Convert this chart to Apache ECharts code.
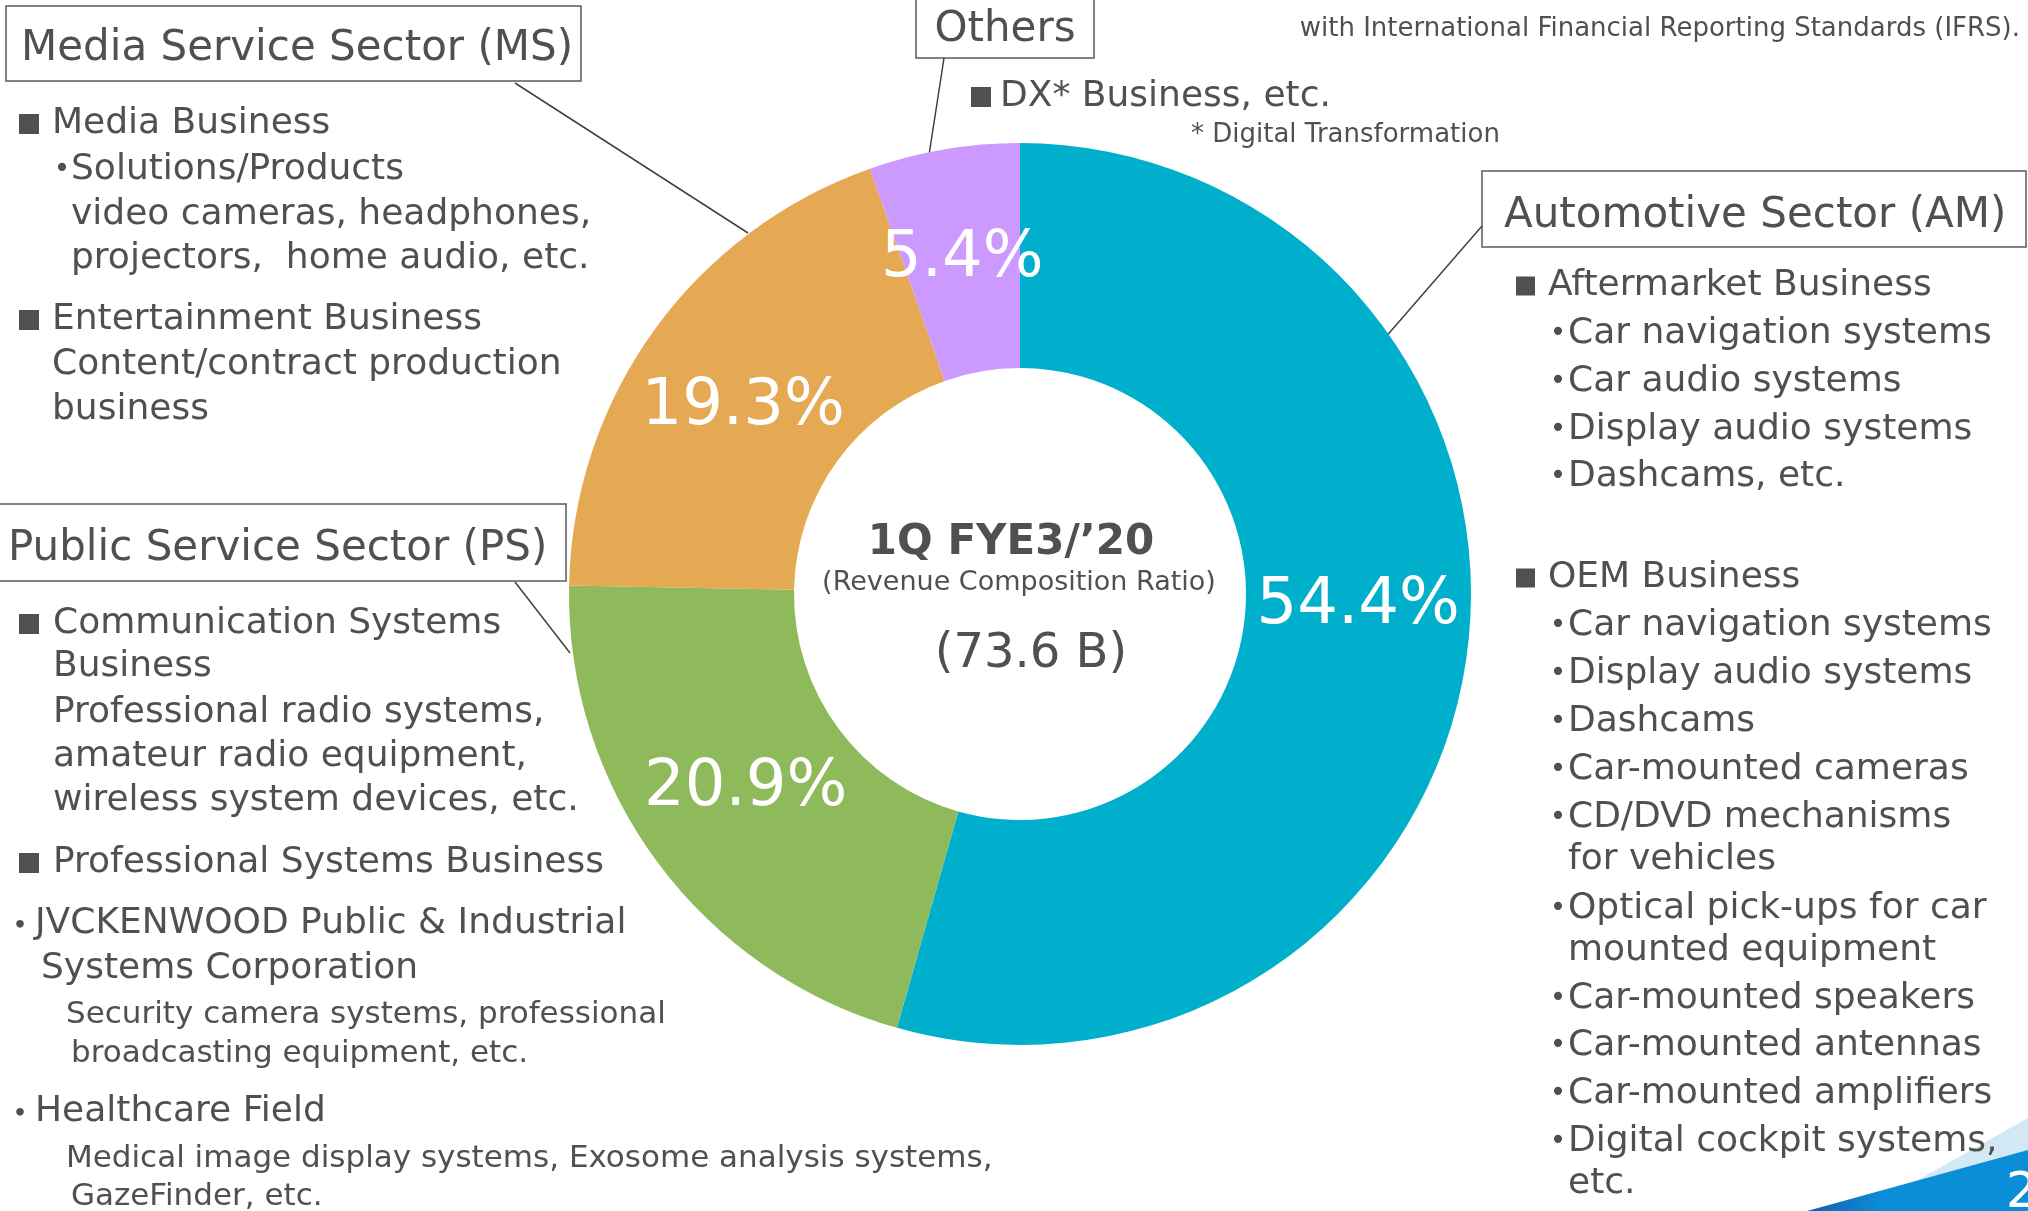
<!DOCTYPE html>
<html>
<head>
<meta charset="utf-8">
<script src="https://cdn.jsdelivr.net/npm/echarts@6/dist/echarts.min.js"></script>
<style>
  html, body { margin: 0; padding: 0; background: #fff; }
  #chart { width: 2028px; height: 1211px; }
</style>
</head>
<body>
<div id="chart"></div>
<script>
// data
const sectors = ['Automotive Sector (AM)', 'Public Service Sector (PS)', 'Media Service Sector (MS)', 'Others'];
const ratios = [54.4, 20.9, 19.3, 5.4];
const sectorColors = ['#00afcc', '#8fba5c', '#e5a853', '#cc99ff'];

const centerTitle = '1Q FYE3/’20';
const centerSub = '(Revenue Composition Ratio)';
const centerTotal = '(73.6 B)';
const ifrsNote = 'with International Financial Reporting Standards (IFRS).';

const msLines = ['Media Business', 'Solutions/Products', 'video cameras, headphones,', 'projectors,  home audio, etc.',
  'Entertainment Business', 'Content/contract production', 'business'];
const psLines = ['Communication Systems', 'Business', 'Professional radio systems,', 'amateur radio equipment,',
  'wireless system devices, etc.', 'Professional Systems Business', 'JVCKENWOOD Public & Industrial',
  'Systems Corporation', 'Security camera systems, professional', 'broadcasting equipment, etc.',
  'Healthcare Field', 'Medical image display systems, Exosome analysis systems,', 'GazeFinder, etc.'];
const otherLines = ['DX* Business, etc.', '* Digital Transformation'];
const amAfterLines = ['Aftermarket Business', 'Car navigation systems', 'Car audio systems', 'Display audio systems', 'Dashcams, etc.'];
const amOemLines = ['OEM Business', 'Car navigation systems', 'Display audio systems', 'Dashcams', 'Car-mounted cameras',
  'CD/DVD mechanisms', 'for vehicles', 'Optical pick-ups for car', 'mounted equipment', 'Car-mounted speakers',
  'Car-mounted antennas', 'Car-mounted amplifiers', 'Digital cockpit systems,', 'etc.'];

// styles
const ink = '#505050';
const fBody = '36px "DejaVu Sans"';
const fSmall = '31px "DejaVu Sans"';
const fHead = '42px "DejaVu Sans"';
const fNote = '26px "DejaVu Sans"';
const fCjk = '36px "Noto Sans CJK JP"';
const dy = 4; // canvas 'middle' sits a little high against the slide text

function txt(str, x, y, font, align, fill) {
  return { type: 'text', x: x, y: y + dy, silent: true,
    style: { text: str, font: font || fBody, fill: fill || ink, align: align || 'left', verticalAlign: 'middle' } };
}
function square(x, y, s) {
  return { type: 'rect', silent: true, shape: { x: x, y: y - s / 2 + 4, width: s, height: s }, style: { fill: ink } };
}
function dot(x, y) { return txt('•', x, y, '28px "DejaVu Sans"', 'center'); }
function box(x, y, w, h) {
  return { type: 'rect', silent: true, shape: { x: x, y: y, width: w, height: h },
    style: { fill: '#fff', stroke: '#595959', lineWidth: 1.5 } };
}
function link(x1, y1, x2, y2) {
  return { type: 'line', silent: true, shape: { x1: x1, y1: y1, x2: x2, y2: y2 }, style: { stroke: '#404040', lineWidth: 1.5 } };
}

let g = [];

// page corner decoration (under the text)
g.push({ type: 'polygon', silent: true, shape: { points: [[1863, 1211], [2028, 1118], [2028, 1211]] }, style: { fill: '#d3e8f5' } });
g.push({ type: 'polygon', silent: true, shape: { points: [[1807, 1211], [2028, 1150], [2028, 1211]] },
  style: { fill: new echarts.graphic.LinearGradient(0, 0, 1, 0, [{ offset: 0, color: '#1560b0' }, { offset: 0.35, color: '#0b8ed8' }, { offset: 1, color: '#0b8ed8' }]) } });
g.push(txt('2', 2006, 1190, '50px "DejaVu Sans"', 'left', '#fff'));

// Media Service Sector
g.push(box(6, 6, 575, 75), txt(sectors[2], 21, 45, fHead), link(515, 83, 748, 233));
g.push(square(19, 120, 20), txt(msLines[0], 52, 120));
g.push(dot(62, 166), txt(msLines[1], 71, 166));
g.push(txt(msLines[2], 71, 211), txt(msLines[3], 71, 255));
g.push(square(19, 316, 20), txt(msLines[4], 52, 316));
g.push(txt(msLines[5], 52, 361), txt(msLines[6], 52, 406));

// Public Service Sector
g.push(box(-2, 504, 568, 77), txt(sectors[1], 8, 545, fHead), link(515, 582, 570, 653));
g.push(square(19, 620, 20), txt(psLines[0], 53, 620));
[663, 709, 753, 797].forEach((y, i) => g.push(txt(psLines[i + 1], 53, y)));
g.push(square(19, 859, 20), txt(psLines[5], 53, 859));
g.push(txt('・', 20, 920, fCjk, 'center'), txt(psLines[6], 35, 920));
g.push(txt(psLines[7], 41, 965));
g.push(txt(psLines[8], 66, 1011, fSmall), txt(psLines[9], 71, 1050, fSmall));
g.push(txt('・', 20, 1108, fCjk, 'center'), txt(psLines[10], 35, 1108));
g.push(txt(psLines[11], 66, 1155, fSmall), txt(psLines[12], 71, 1193, fSmall));

// Others
g.push(box(916, -5, 178, 63), txt(sectors[3], 1005, 26, fHead, 'center'), link(944, 58, 929, 155));
g.push(square(971, 93, 20), txt(otherLines[0], 1000, 93));
g.push(txt(otherLines[1], 1191, 131, fNote));
g.push(txt(ifrsNote, 2020, 25, fNote, 'right'));

// Automotive Sector
g.push(box(1482, 171, 544, 76), txt(sectors[0], 1504, 212, fHead), link(1482, 226, 1384, 339));
const amAfterY = [282, 330, 378, 426, 473];
amAfterLines.forEach((s, i) => {
  if (i === 0) g.push(square(1516, amAfterY[i], 19), txt(s, 1548, amAfterY[i]));
  else g.push(dot(1558, amAfterY[i]), txt(s, 1568, amAfterY[i]));
});
const amOemY = [574, 622, 670, 718, 766, 814, 856, 905, 947, 995, 1042, 1090, 1138, 1180];
const noBullet = ['for vehicles', 'mounted equipment', 'etc.'];
amOemLines.forEach((s, i) => {
  if (i === 0) g.push(square(1516, amOemY[i], 19), txt(s, 1548, amOemY[i]));
  else if (noBullet.indexOf(s) >= 0) g.push(txt(s, 1568, amOemY[i]));
  else g.push(dot(1558, amOemY[i]), txt(s, 1568, amOemY[i]));
});

// centre of the ring
g.push(txt(centerTitle, 1011, 539, 'bold 42px "DejaVu Sans"', 'center'));
g.push(txt(centerSub, 1019, 579, '27px "DejaVu Sans"', 'center'));
g.push(txt(centerTotal, 1031, 651, '48px "DejaVu Sans"', 'center'));

let chart = echarts.init(document.getElementById('chart'));
// label nudges so the numbers sit where the slide has them
const labelShift = [[0, -35], [0, -9], [0, 13], [0, 2]];
chart.setOption({
  animation: false,
  graphic: { elements: g },
  series: [
    {
      type: 'pie',
      center: [1020, 594],
      radius: [226, 451],
      startAngle: 90,
      clockwise: true,
      silent: true,
      labelLine: { show: false },
      label: {
        show: true,
        position: 'inside',
        formatter: '{c}%',
        color: '#fff',
        fontSize: 64,
        fontFamily: 'DejaVu Sans',
        textBorderWidth: 0
      },
      data: ratios.map((v, i) => ({
        value: v,
        name: sectors[i],
        itemStyle: { color: sectorColors[i] },
        label: { offset: labelShift[i] }
      }))
    }
  ]
});
</script>
</body>
</html>
